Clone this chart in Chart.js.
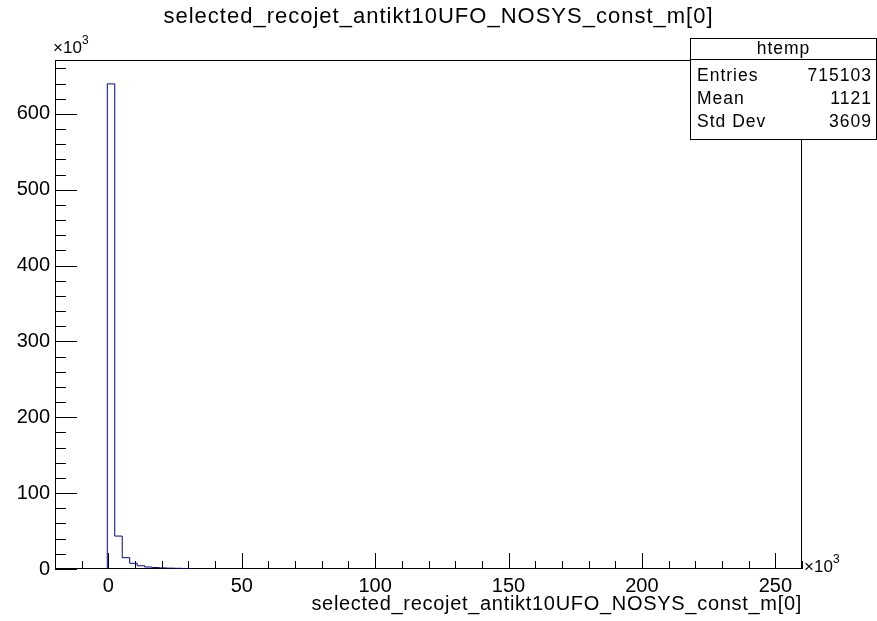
<!DOCTYPE html>
<html>
<head>
<meta charset="utf-8">
<script src="https://cdn.jsdelivr.net/npm/chart.js@4"></script>
<style>
  html, body { margin: 0; padding: 0; background: #fff; }
  #wrap { width: 877px; height: 621px; }
</style>
</head>
<body>
<div id="wrap"><canvas id="chart" width="877" height="621"></canvas></div>
<script>
// histogram values, in units of 10^3
const binEdges = [-0.4, 2.4, 5.2, 8.0, 10.8, 13.6, 16.4, 19.2, 22.0, 24.8, 27.6, 30.4]
const binCounts = [639.5, 43.4, 14.9, 7.5, 4.3, 2.6, 1.9, 1.4, 1.1, 0.9, 0.7]
const xTicks = [0, 50, 100, 150, 200, 250]
const yTicks = [0, 100, 200, 300, 400, 500, 600]
const statNames = ['Entries', 'Mean', 'Std Dev']
const statValues = ['715103', '1121', '3609']
const titleText = 'selected_recojet_antikt10UFO_NOSYS_const_m[0]'
const xTitleText = 'selected_recojet_antikt10UFO_NOSYS_const_m[0]'

const FONT = '"Liberation Sans", Arial, sans-serif'

function histPoints(edges, counts) {
    let pts = [{x: edges[0], y: 0}]
    for (let i = 0; i < counts.length; i++)
        pts.push({x: edges[i], y: counts[i]})
    pts.push({x: edges[edges.length - 1], y: 0})
    return pts
}

// ROOT style frame with ticks pointing inward, titles and stats box
const framePlugin = {
    id: 'frame',
    beforeDatasetsDraw(chart) {
        const {ctx, chartArea: a, scales: {x, y}} = chart
        ctx.save()
        ctx.strokeStyle = '#000'
        ctx.lineWidth = 1
        ctx.strokeRect(Math.round(a.left) + 0.5, Math.round(a.top) + 0.5,
            Math.round(a.right - a.left) - 1, Math.round(a.bottom - a.top) - 1)
        ctx.beginPath()
        for (let v = -10; v <= 260; v += 10) {
            let px = Math.round(x.getPixelForValue(v)) + 0.5
            let len = v % 50 === 0 ? 16 : 8
            ctx.moveTo(px, a.bottom)
            ctx.lineTo(px, a.bottom - len)
        }
        for (let v = 0; v <= 660; v += 20) {
            let py = Math.round(y.getPixelForValue(v)) + 0.5
            let len = v % 100 === 0 ? 22 : 11
            ctx.moveTo(a.left, py)
            ctx.lineTo(a.left + len, py)
        }
        ctx.stroke()
        ctx.restore()
    },
    afterDraw(chart) {
        const {ctx, chartArea: a} = chart
        ctx.save()
        ctx.fillStyle = '#000'

        // main title, centred on the canvas
        ctx.letterSpacing = '1px'
        ctx.font = '22px ' + FONT
        ctx.textAlign = 'center'
        ctx.textBaseline = 'middle'
        ctx.fillText(titleText, chart.width / 2, 17)

        // x axis title, right aligned to the frame
        ctx.letterSpacing = '0.7px'
        ctx.font = '20px ' + FONT
        ctx.textAlign = 'right'
        ctx.textBaseline = 'alphabetic'
        ctx.fillText(xTitleText, a.right, 610)

        // exponent labels
        ctx.letterSpacing = '0px'
        ctx.textAlign = 'left'
        ctx.font = '17px ' + FONT
        ctx.fillText('\u00d710', a.left - 2, a.top - 7)
        ctx.fillText('\u00d710', a.right + 2, a.bottom + 3)
        ctx.font = '12px ' + FONT
        ctx.fillText('3', a.left + 27, a.top - 16)
        ctx.fillText('3', a.right + 31, a.bottom - 6)

        // stats box
        const bx = 690.5, by = 38.5, bw = 186, bh = 101
        ctx.fillStyle = '#fff'
        ctx.fillRect(bx, by, bw, bh)
        ctx.strokeStyle = '#000'
        ctx.lineWidth = 1
        ctx.strokeRect(bx, by, bw, bh)
        ctx.beginPath()
        ctx.moveTo(bx, 59.5)
        ctx.lineTo(bx + bw, 59.5)
        ctx.stroke()
        ctx.fillStyle = '#000'
        ctx.letterSpacing = '1px'
        ctx.font = '17.5px ' + FONT
        ctx.textBaseline = 'middle'
        ctx.textAlign = 'center'
        ctx.fillText('htemp', bx + bw / 2, 49)
        for (let i = 0; i < statNames.length; i++) {
            let ty = 76 + i * 23
            ctx.textAlign = 'left'
            ctx.fillText(statNames[i], 697, ty)
            ctx.textAlign = 'right'
            ctx.fillText(statValues[i], 872, ty)
        }
        ctx.restore()
    }
}

const data = {
    datasets: [{
        label: 'htemp',
        data: histPoints(binEdges, binCounts),
        borderColor: '#000099',
        borderWidth: 1,
        stepped: true,
        pointRadius: 0,
        fill: false
    }]
}

const config = {
    type: 'line',
    data: data,
    options: {
        responsive: false,
        animation: false,
        layout: {padding: {left: 0, right: 75, top: 60, bottom: 0}},
        plugins: {
            legend: {display: false},
            tooltip: {enabled: false},
            title: {display: false}
        },
        scales: {
            x: {
                type: 'linear',
                min: -20,
                max: 260,
                afterBuildTicks: s => { s.ticks = xTicks.map(v => ({value: v})) },
                afterFit: s => { s.height = 52 },
                grid: {display: false, drawTicks: false},
                border: {display: false},
                ticks: {color: '#000', padding: 5, maxRotation: 0,
                    font: {family: FONT, size: 20}}
            },
            y: {
                type: 'linear',
                min: 0,
                max: 671,
                afterBuildTicks: s => { s.ticks = yTicks.map(v => ({value: v})) },
                afterFit: s => { s.width = 55 },
                grid: {display: false, drawTicks: false},
                border: {display: false},
                ticks: {color: '#000', padding: 5,
                    font: {family: FONT, size: 20}}
            }
        }
    },
    plugins: [framePlugin]
}

let ctx = document.getElementById('chart').getContext('2d')
new Chart(ctx, config)
</script>
</body>
</html>
